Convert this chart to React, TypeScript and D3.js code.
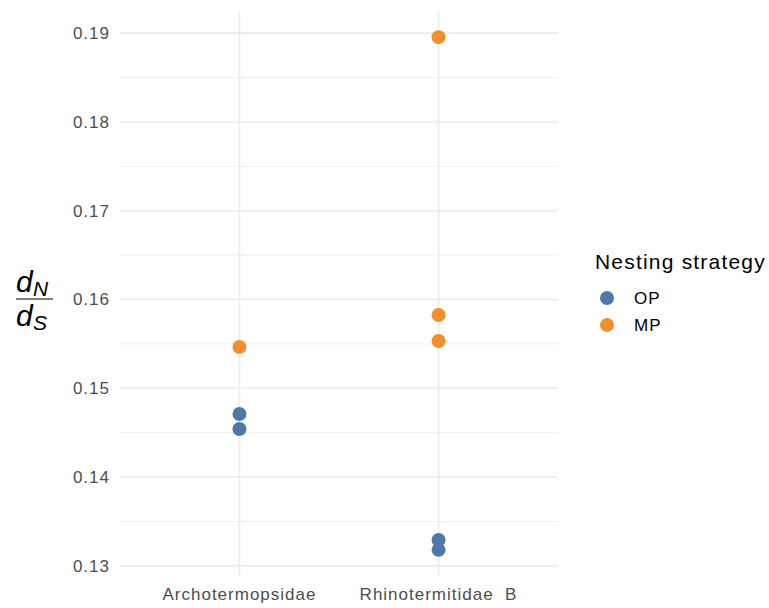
import { useEffect, useRef } from 'react';
import * as d3 from 'd3';

const categories = ['Archotermopsidae', 'Rhinotermitidae  B'];
const strategies = ['OP', 'MP'];
const colors = ['#4e79a7', '#f28e2b'];

const pointCategory = ['Archotermopsidae', 'Archotermopsidae', 'Archotermopsidae',
  'Rhinotermitidae  B', 'Rhinotermitidae  B', 'Rhinotermitidae  B', 'Rhinotermitidae  B', 'Rhinotermitidae  B'];
const pointStrategy = ['MP', 'OP', 'OP', 'MP', 'MP', 'MP', 'OP', 'OP'];
const pointValue = [0.15465, 0.14711, 0.14542, 0.18955, 0.15825, 0.15533, 0.13292, 0.1318];

const yTicks = [0.13, 0.14, 0.15, 0.16, 0.17, 0.18, 0.19];
const yMinor = [0.135, 0.145, 0.155, 0.165, 0.175, 0.185];

export default function App() {
  const svgRef = useRef<SVGSVGElement>(null);

  useEffect(() => {
    if (!svgRef.current) return;
    const svg = d3.select(svgRef.current);
    svg.selectAll('*').remove();

    const font = '"Liberation Sans", Arial, sans-serif';
    const panel = { left: 120, right: 558, top: 11.5, bottom: 575.5 };

    const lo = d3.min(pointValue)!;
    const hi = d3.max(pointValue)!;
    const pad = (hi - lo) * 0.05;
    const y = d3.scaleLinear().domain([lo - pad, hi + pad]).range([panel.bottom, panel.top]);
    const x = d3.scalePoint<string>().domain(categories).range([panel.left, panel.right]).padding(0.6);
    const color = d3.scaleOrdinal<string, string>().domain(strategies).range(colors);

    const g = svg.append('g');

    g.selectAll('.minor')
      .data(yMinor)
      .enter().append('line')
      .attr('x1', panel.left).attr('x2', panel.right)
      .attr('y1', d => y(d)).attr('y2', d => y(d))
      .attr('stroke', '#ebebeb').attr('stroke-width', 0.8);

    g.selectAll('.major')
      .data(yTicks)
      .enter().append('line')
      .attr('x1', panel.left).attr('x2', panel.right)
      .attr('y1', d => y(d)).attr('y2', d => y(d))
      .attr('stroke', '#ebebeb').attr('stroke-width', 1.6);

    g.selectAll('.vmajor')
      .data(categories)
      .enter().append('line')
      .attr('x1', d => x(d)!).attr('x2', d => x(d)!)
      .attr('y1', panel.top).attr('y2', panel.bottom)
      .attr('stroke', '#ebebeb').attr('stroke-width', 1.6);

    g.selectAll('.ytick')
      .data(yTicks)
      .enter().append('text')
      .attr('x', 110)
      .attr('y', d => y(d))
      .attr('dy', '0.35em')
      .attr('text-anchor', 'end')
      .style('font-family', font)
      .style('font-size', '17px')
      .style('letter-spacing', '1px')
      .style('fill', '#4d4d4d')
      .text(d => d.toFixed(2));

    g.selectAll('.xtick')
      .data(categories)
      .enter().append('text')
      .attr('x', d => x(d)!)
      .attr('y', 600)
      .attr('text-anchor', 'middle')
      .attr('xml:space', 'preserve')
      .style('white-space', 'pre')
      .style('font-family', font)
      .style('font-size', '17px')
      .style('letter-spacing', '1px')
      .style('fill', '#4d4d4d')
      .text(d => d);

    const points = pointValue.map((v, i) => ({ v, c: pointCategory[i], s: pointStrategy[i] }));
    g.selectAll('.pt')
      .data(points)
      .enter().append('circle')
      .attr('cx', d => x(d.c)!)
      .attr('cy', d => y(d.v))
      .attr('r', 7)
      .attr('fill', d => color(d.s));

    // y axis label: dN / dS
    const lab = g.append('g').attr('transform', 'translate(34,299)')
      .style('font-family', font).style('font-style', 'italic');
    lab.append('text').attr('x', -18).attr('y', -7).style('font-size', '30px').text('d');
    lab.append('text').attr('x', -1).attr('y', -3).style('font-size', '21px').text('N');
    lab.append('line').attr('x1', -18).attr('x2', 19).attr('y1', 0).attr('y2', 0)
      .attr('stroke', '#000').attr('stroke-width', 1.2);
    lab.append('text').attr('x', -18).attr('y', 27).style('font-size', '30px').text('d');
    lab.append('text').attr('x', -1).attr('y', 31).style('font-size', '21px').text('S');

    // legend
    const leg = g.append('g').style('font-family', font);
    leg.append('text').attr('x', 595).attr('y', 269)
      .style('font-size', '21px').style('letter-spacing', '1.2px')
      .style('fill', '#000').text('Nesting strategy');
    strategies.forEach((s, i) => {
      const cy = 298 + i * 27;
      leg.append('circle').attr('cx', 607).attr('cy', cy).attr('r', 7).attr('fill', color(s));
      leg.append('text').attr('x', 634).attr('y', cy).attr('dy', '0.35em')
        .style('font-size', '17px').style('letter-spacing', '1px')
        .style('fill', '#000').text(s);
    });
  }, []);

  return <svg ref={svgRef} width={769} height={608} style={{ position: 'absolute', left: 0, top: 0 }}></svg>;
}
